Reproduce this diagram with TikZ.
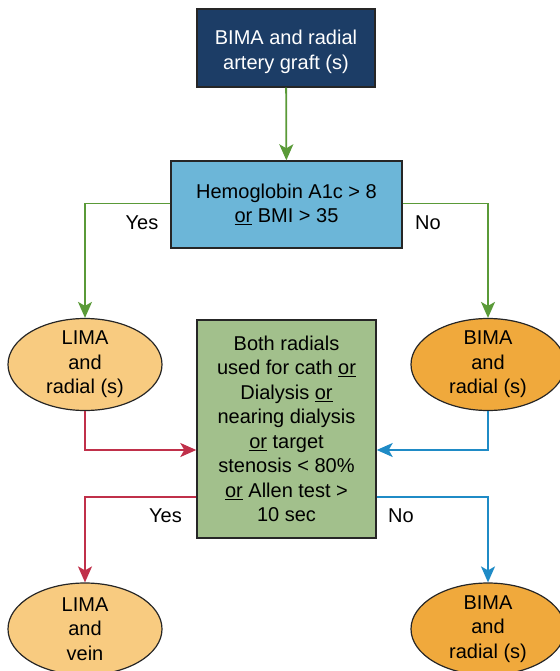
\documentclass[tikz,border=0pt]{standalone}
\usepackage{fontspec}
\setmainfont{Liberation Sans}
\usetikzlibrary{shapes.geometric,arrows.meta}
\definecolor{navy}{HTML}{1C3D66}
\definecolor{bluefill}{HTML}{6CB6D8}
\definecolor{greenfill}{HTML}{A2C08C}
\definecolor{lightorange}{HTML}{F8CB80}
\definecolor{darkorange}{HTML}{F0A93C}
\definecolor{garrowc}{HTML}{5A9A38}
\definecolor{rarrowc}{HTML}{C0304A}
\definecolor{barrowc}{HTML}{1F8BC6}
\tikzset{
  txt/.style={font=\fontsize{20}{24.5}\selectfont, align=center, inner sep=0pt},
  boxnode/.style={draw=black!85, line width=1.4pt, txt},
  ovalnode/.style={ellipse, draw=black!85, line width=1.2pt, minimum width=154pt, minimum height=92pt, inner sep=0pt},
  conn/.style={line width=1.8pt, -{Stealth[length=16pt,width=14pt,inset=4pt]}},
  lbl/.style={font=\fontsize{20}{24}\selectfont, inner sep=0pt}
}
\begin{document}
\begin{tikzpicture}[x=1pt,y=-1pt]
\useasboundingbox (0,0) rectangle (559,671);
\node[boxnode, fill=navy, minimum width=178pt, minimum height=78pt] (top) at (286,48) {};
\node[txt, text=white] (topt) at ([yshift=-4pt]top.center) {BIMA and radial\\artery graft (s)};
\node[boxnode, fill=bluefill, minimum width=231pt, minimum height=87pt] (q1) at (286.5,204.5) {Hemoglobin A1c {>} 8\\\underline{or} BMI {>} 35};
\node[boxnode, fill=greenfill, minimum width=179pt, minimum height=218pt] (q2) at (286.5,429) {Both radials\\used for cath \underline{or}\\Dialysis \underline{or}\\nearing dialysis\\\underline{or} target\\stenosis {<} 80\%\\\underline{or} Allen test {>}\\10 sec};
\node[ovalnode, fill=lightorange] (lr) at (85,364.5) {};
\node[txt] (lrt) at (lr) {LIMA\\and\\radial (s)};
\node[ovalnode, fill=darkorange] (br) at (488,364.5) {};
\node[txt] (brt) at (br) {BIMA\\and\\radial (s)};
\node[ovalnode, fill=lightorange] (lv) at (85,629) {};
\node[txt] (lvt) at (lv) {LIMA\\and\\vein};
\node[ovalnode, fill=darkorange] (br2) at (488,629) {};
\node[txt] (br2t) at (br2) {BIMA\\and\\radial (s)};
\draw[conn, garrowc] (top) -- (q1);
\draw[conn, garrowc] ([yshift=1pt]q1.west) -| (lr.north);
\draw[conn, garrowc] ([yshift=1pt]q1.east) -| (br.north);
\draw[conn, rarrowc] (lr.south) |- ([yshift=-21pt]q2.west);
\draw[conn, barrowc] (br.south) |- ([yshift=-21pt]q2.east);
\draw[conn, rarrowc] ([yshift=-68pt]q2.west) -| (lv.north);
\draw[conn, barrowc] ([yshift=-68pt]q2.east) -| (br2.north);
\node[lbl] (y1) at (142,223) {Yes};
\node[lbl] (n1) at (428,223) {No};
\node[lbl] (y2) at (165.5,516) {Yes};
\node[lbl] (n2) at (401,516) {No};
\end{tikzpicture}
\end{document}
